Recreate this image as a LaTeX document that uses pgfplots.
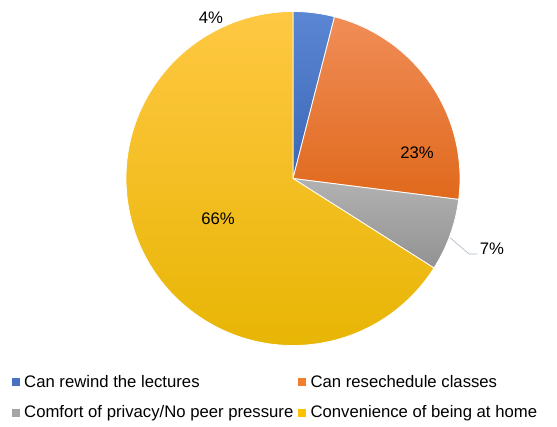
\documentclass[border=0pt]{standalone}
\usepackage{pgfplots}
\pgfplotsset{compat=1.18}
\usepackage{fontspec}
\setmainfont{Liberation Sans}

% slice colours: top / middle / bottom of each gradient
\definecolor{blueT}{HTML}{5B86D3}
\definecolor{blueM}{HTML}{4472C4}
\definecolor{blueB}{HTML}{3C67B6}
\definecolor{orangeT}{HTML}{F08D57}
\definecolor{orangeM}{HTML}{F27E2E}
\definecolor{orangeB}{HTML}{E0691C}
\definecolor{grayT}{HTML}{B2B2B2}
\definecolor{grayM}{HTML}{A5A5A5}
\definecolor{grayB}{HTML}{929292}
\definecolor{goldT}{HTML}{FFC843}
\definecolor{goldM}{HTML}{FFC000}
\definecolor{goldB}{HTML}{E6B400}
\definecolor{leader}{HTML}{A9B4C8}

\begin{document}
\begin{tikzpicture}
\begin{axis}[
    x=1pt, y=1pt,
    xmin=0, xmax=557, ymin=0, ymax=426,
    hide axis,
    clip=false,
    font=\fontsize{16.7}{19}\selectfont,
    legend columns=2,
    legend cell align=left,
    legend image code/.code={\fill[#1] (0pt,-3.5pt) rectangle (7pt,3.5pt);
        \path[draw=none, fill=none] (0pt,0pt) -- (10pt,0pt);},
    legend style={draw=none, fill=none, at={(axis cs:12,53)}, anchor=north west,
        font=\fontsize{16.7}{19}\selectfont,
        inner sep=0pt, outer sep=0pt,
        row sep=13pt,
        /tikz/every even column/.append style={column sep=3pt}},
]
% whole picture area
\path (axis cs:0,0) rectangle (axis cs:557,426);
% share of each answer, in percent
\def\pieangle{90}
\foreach \v/\c in {4/blue, 23/orange, 7/gray, 66/gold}{%
    \pgfmathsetmacro\e{\pieangle-3.6*\v}%
    \edef\temp{\noexpand\shadedraw[top color=\c T, middle color=\c M, bottom color=\c B,
        draw=white, line width=0.8pt, line join=round]
        (axis cs:293,247.5) -- +(\pieangle:167pt)
        arc[start angle=\pieangle, end angle=\e, radius=167pt] -- cycle;}%
    \temp
    \global\let\pieangle\e
}
\addlegendimage{blueM}\addlegendentry{Can rewind the lectures}
\addlegendimage{orangeM}\addlegendentry{Can resechedule classes}
\addlegendimage{grayM}\addlegendentry{Comfort of privacy/No peer pressure}
\addlegendimage{goldM}\addlegendentry{Convenience of being at home}

\node at (axis cs:211,408) {4\%};
\node at (axis cs:417,273) {23\%};
\node at (axis cs:218,207) {66\%};
\draw[leader, line width=0.6pt] (axis cs:450,188.3) -- (axis cs:469,172) -- (axis cs:477,172);
\node at (axis cs:492,177.5) {7\%};
\end{axis}
\end{tikzpicture}
\end{document}
